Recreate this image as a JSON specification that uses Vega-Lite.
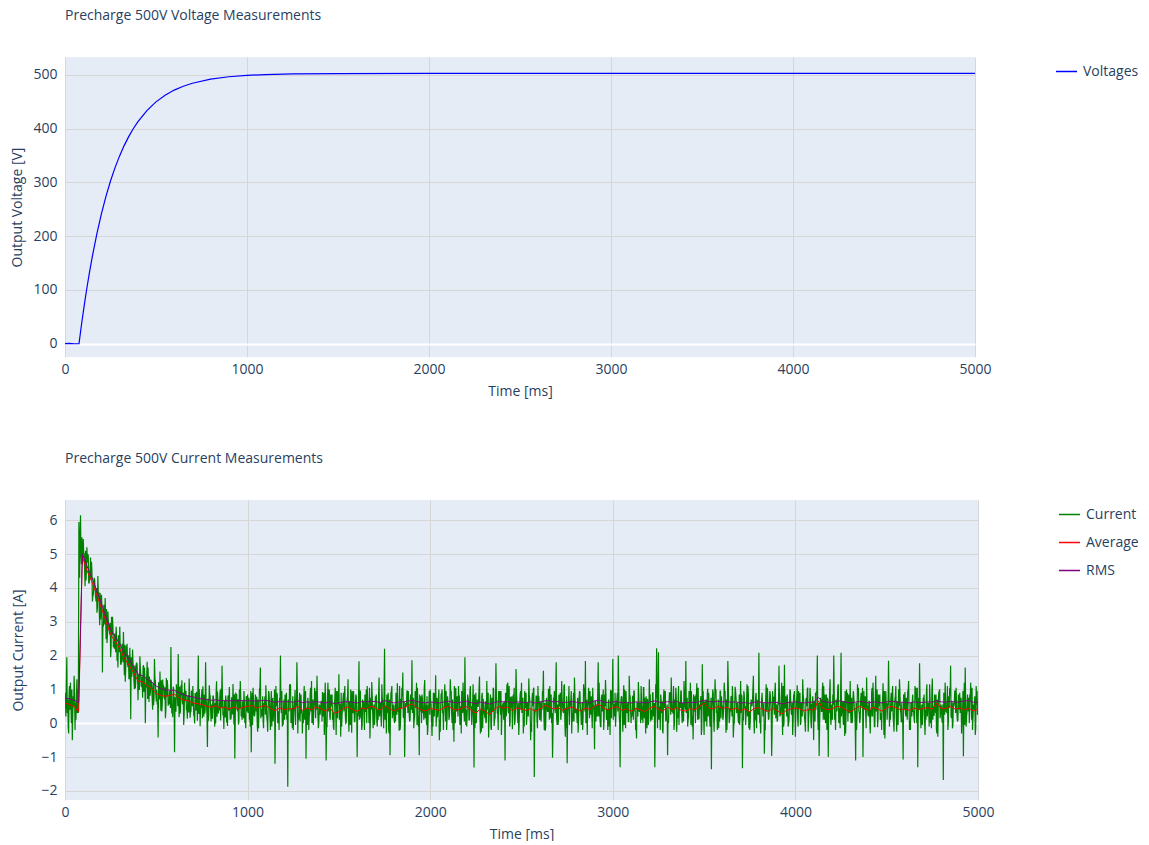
{
"$schema": "https://vega.github.io/schema/vega-lite/v6.json",
"background": "white",
"padding": {"top": 9, "left": 10, "right": 0, "bottom": 0},
"config": {
 "font": "Open Sans",
 "view": {"stroke": null, "fill": "#E5ECF6"},
 "axis": {"domain": false, "ticks": false, "labelFont": "Open Sans", "labelFontSize": 14, "labelColor": "#2a3f5f", "titleFont": "Open Sans", "titleFontSize": 14, "titleFontWeight": "normal", "titleColor": "#2a3f5f", "gridColor": "#d6d6d6", "gridWidth": 1},
 "title": {"font": "Open Sans", "fontSize": 14, "fontWeight": "normal", "color": "#2a3f5f", "anchor": "start", "frame": "group", "offset": 34},
 "legend": {"title": null, "orient": "right", "symbolType": "stroke", "symbolSize": 441, "symbolStrokeWidth": 1.5, "labelFont": "Open Sans", "labelFontSize": 14, "labelColor": "#2a3f5f", "labelOffset": 5, "rowPadding": 9, "offset": 77, "padding": 3}
},
"datasets": {
 "volt": [
  {"t":0,"v":0},{"t":25,"v":0.5},{"t":50,"v":-0.3},{"t":77,"v":0},{"t":90,"v":33.6},{"t":100,"v":57.7},{"t":110,"v":81},{"t":120,"v":103},{"t":135,"v":133.5},{"t":150,"v":162},{"t":175,"v":204},{"t":200,"v":241.5},{"t":225,"v":274},{"t":250,"v":302.6},{"t":275,"v":327.5},{"t":300,"v":349.4},{"t":325,"v":368.5},{"t":350,"v":385.3},{"t":375,"v":399.9},{"t":400,"v":412.8},{"t":450,"v":433.8},{"t":500,"v":450},{"t":550,"v":462.4},{"t":600,"v":471.9},{"t":650,"v":479.1},{"t":700,"v":484.7},{"t":800,"v":492.2},{"t":900,"v":496.7},{"t":1000,"v":499.3},{"t":1100,"v":500.8},{"t":1250,"v":502},{"t":1500,"v":502.7},{"t":2000,"v":503},{"t":2500,"v":503.2},{"t":3000,"v":503},{"t":3500,"v":503.1},{"t":4000,"v":503},{"t":4500,"v":503.2},{"t":5000,"v":503}
 ],
 "cur": [
  {"t":0,"i":0.9},{"t":5,"i":0.2},{"t":10,"i":1.95},{"t":15,"i":0.7},{"t":20,"i":-0.3},{"t":25,"i":1.1},{"t":30,"i":1.2},{"t":35,"i":0.0},{"t":40,"i":-0.5},{"t":45,"i":0.8},{"t":50,"i":1.4},{"t":55,"i":-0.2},{"t":60,"i":0.1},{"t":65,"i":1.3},{"t":70,"i":1.0},{"t":73,"i":0.3},{"t":76,"i":5.95},{"t":80,"i":4.3},{"t":85,"i":6.15},{"t":90,"i":4.7},{"t":95,"i":4.7},
  {"t":100,"i":5.45},{"t":105,"i":5.03},{"t":110,"i":4.05},{"t":115,"i":4.22},{"t":120,"i":5.2},{"t":125,"i":5.0},{"t":130,"i":4.15},{"t":135,"i":4.28},{"t":140,"i":4.9},{"t":145,"i":4.77},{"t":150,"i":3.6},{"t":155,"i":3.8},{"t":160,"i":4.3},{"t":165,"i":3.93},{"t":170,"i":3.6},{"t":175,"i":3.27},{"t":180,"i":4.35},{"t":185,"i":3.88},{"t":190,"i":2.9},{"t":195,"i":3.07},
  {"t":200,"i":3.8},{"t":205,"i":1.5},{"t":210,"i":2.85},{"t":215,"i":3.27},{"t":220,"i":3.7},{"t":225,"i":2.48},{"t":230,"i":2.37},{"t":235,"i":3.3},{"t":240,"i":2.93},{"t":245,"i":2.62},{"t":250,"i":1.95},{"t":255,"i":3.15},{"t":260,"i":3.15},{"t":265,"i":2.25},{"t":270,"i":2.2},{"t":275,"i":2.45},{"t":280,"i":2.85},{"t":285,"i":1.85},{"t":290,"i":1.65},{"t":295,"i":2.5},
  {"t":300,"i":2.85},{"t":305,"i":1.75},{"t":310,"i":1.9},{"t":315,"i":2.15},{"t":320,"i":2.7},{"t":325,"i":1.42},{"t":330,"i":1.23},{"t":335,"i":2.29},{"t":340,"i":2.35},{"t":345,"i":1.66},{"t":350,"i":1.32},{"t":355,"i":2.23},{"t":360,"i":0.12},{"t":365,"i":1.37},{"t":370,"i":2.18},{"t":375,"i":1.6},{"t":380,"i":1.01},{"t":385,"i":1.03},{"t":390,"i":1.74},{"t":395,"i":1.71},
  {"t":400,"i":0.68},{"t":405,"i":1.0},{"t":410,"i":1.98},{"t":415,"i":1.45},{"t":420,"i":1.07},{"t":425,"i":0.75},{"t":430,"i":1.72},{"t":435,"i":1.65},{"t":440,"i":0.0},{"t":445,"i":1.05},{"t":450,"i":1.82},{"t":455,"i":1.65},{"t":460,"i":0.63},{"t":465,"i":0.81},{"t":470,"i":1.29},{"t":475,"i":1.07},{"t":480,"i":0.4},{"t":485,"i":0.53},{"t":490,"i":1.9},{"t":495,"i":1.25},
  {"t":500,"i":0.64},{"t":505,"i":0.57},{"t":510,"i":-0.42},{"t":515,"i":1.05},{"t":520,"i":1.53},{"t":525,"i":0.37},{"t":530,"i":0.35},{"t":535,"i":1.29},{"t":540,"i":1.12},{"t":545,"i":0.71},{"t":550,"i":0.15},{"t":555,"i":1.34},{"t":560,"i":1.28},{"t":565,"i":0.52},{"t":570,"i":0.56},{"t":575,"i":0.8},{"t":580,"i":2.25},{"t":585,"i":0.29},{"t":590,"i":0.18},{"t":595,"i":1.02},
  {"t":600,"i":-0.86},{"t":605,"i":0.36},{"t":610,"i":1.15},{"t":615,"i":0.85},{"t":620,"i":2.05},{"t":625,"i":0.18},{"t":630,"i":0.28},{"t":635,"i":1.12},{"t":640,"i":1.27},{"t":645,"i":0.56},{"t":650,"i":-0.05},{"t":655,"i":1.2},{"t":660,"i":0.94},{"t":665,"i":0.38},{"t":670,"i":0.13},{"t":675,"i":0.67},{"t":680,"i":1.32},{"t":685,"i":0.16},{"t":690,"i":0.36},{"t":695,"i":0.9},
  {"t":700,"i":1.1},{"t":705,"i":0.24},{"t":710,"i":-0.01},{"t":715,"i":0.73},{"t":720,"i":0.93},{"t":725,"i":0.07},{"t":730,"i":2.0},{"t":735,"i":1.01},{"t":740,"i":-0.09},{"t":745,"i":0.45},{"t":750,"i":1.0},{"t":755,"i":1.09},{"t":760,"i":0.19},{"t":765,"i":0.28},{"t":770,"i":1.8},{"t":775,"i":0.57},{"t":780,"i":-0.7},{"t":785,"i":0.07},{"t":790,"i":1.12},{"t":795,"i":0.81},
  {"t":800,"i":0.05},{"t":805,"i":0.15},{"t":810,"i":0.8},{"t":815,"i":0.65},{"t":820,"i":-0.1},{"t":825,"i":-0.01},{"t":830,"i":1.24},{"t":835,"i":0.94},{"t":840,"i":0.29},{"t":845,"i":0.38},{"t":850,"i":0.98},{"t":855,"i":1.03},{"t":860,"i":1.7},{"t":865,"i":0.23},{"t":870,"i":-0.17},{"t":875,"i":0.52},{"t":880,"i":0.82},{"t":885,"i":0.02},{"t":890,"i":-0.08},{"t":895,"i":0.77},
  {"t":900,"i":1.07},{"t":905,"i":0.12},{"t":910,"i":0.17},{"t":915,"i":0.61},{"t":920,"i":1.16},{"t":925,"i":-0.04},{"t":930,"i":-1.04},{"t":935,"i":0.91},{"t":940,"i":0.86},{"t":945,"i":0.36},{"t":950,"i":-0.04},{"t":955,"i":1.0},{"t":960,"i":1.25},{"t":965,"i":0.2},{"t":970,"i":0.1},{"t":975,"i":0.5},{"t":980,"i":0.95},{"t":985,"i":0.0},{"t":990,"i":-0.15},{"t":995,"i":0.75},
  {"t":1000,"i":0.85},{"t":1005,"i":0.55},{"t":1010,"i":0.12},{"t":1015,"i":-0.1},{"t":1020,"i":-0.86},{"t":1025,"i":0.9},{"t":1030,"i":1.05},{"t":1035,"i":0.25},{"t":1040,"i":0.3},{"t":1045,"i":0.7},{"t":1050,"i":0.78},{"t":1055,"i":-0.25},{"t":1060,"i":-0.15},{"t":1065,"i":1.0},{"t":1070,"i":1.65},{"t":1075,"i":0.4},{"t":1080,"i":0.2},{"t":1085,"i":0.05},{"t":1090,"i":0.6},{"t":1095,"i":0.8},
  {"t":1100,"i":1.12},{"t":1105,"i":0.2},{"t":1110,"i":-0.25},{"t":1115,"i":0.95},{"t":1120,"i":0.55},{"t":1125,"i":-0.2},{"t":1130,"i":0.95},{"t":1135,"i":0.6},{"t":1140,"i":0.05},{"t":1145,"i":0.35},{"t":1150,"i":-1.2},{"t":1155,"i":1.1},{"t":1160,"i":0.9},{"t":1165,"i":0.0},{"t":1170,"i":0.35},{"t":1175,"i":0.75},{"t":1180,"i":2.0},{"t":1185,"i":0.3},{"t":1190,"i":-0.1},{"t":1195,"i":-0.05},
  {"t":1200,"i":0.7},{"t":1205,"i":0.85},{"t":1210,"i":0.25},{"t":1215,"i":0.1},{"t":1220,"i":-1.88},{"t":1225,"i":0.5},{"t":1230,"i":1.15},{"t":1235,"i":1.15},{"t":1240,"i":0.4},{"t":1245,"i":-0.15},{"t":1250,"i":-0.2},{"t":1255,"i":0.45},{"t":1260,"i":0.98},{"t":1265,"i":0.65},{"t":1270,"i":1.8},{"t":1275,"i":-0.3},{"t":1280,"i":0.1},{"t":1285,"i":0.9},{"t":1290,"i":0.62},{"t":1295,"i":0.3},
  {"t":1300,"i":-0.3},{"t":1305,"i":0.0},{"t":1310,"i":1.1},{"t":1315,"i":0.7},{"t":1320,"i":-1.05},{"t":1325,"i":0.35},{"t":1330,"i":0.75},{"t":1335,"i":-0.2},{"t":1340,"i":0.3},{"t":1345,"i":1.05},{"t":1350,"i":1.25},{"t":1355,"i":0.15},{"t":1360,"i":-0.05},{"t":1365,"i":0.6},{"t":1370,"i":0.58},{"t":1375,"i":0.95},{"t":1380,"i":1.4},{"t":1385,"i":0.25},{"t":1390,"i":0.0},{"t":1395,"i":0.5},
  {"t":1400,"i":0.45},{"t":1405,"i":0.65},{"t":1410,"i":0.92},{"t":1415,"i":0.2},{"t":1420,"i":-0.35},{"t":1425,"i":1.2},{"t":1430,"i":-1.1},{"t":1435,"i":-0.1},{"t":1440,"i":1.2},{"t":1445,"i":0.45},{"t":1450,"i":0.2},{"t":1455,"i":0.85},{"t":1460,"i":0.68},{"t":1465,"i":0.1},{"t":1470,"i":-0.12},{"t":1475,"i":0.55},{"t":1480,"i":1.05},{"t":1485,"i":-0.35},{"t":1490,"i":0.35},{"t":1495,"i":0.95},
  {"t":1500,"i":1.45},{"t":1505,"i":0.55},{"t":1510,"i":-0.4},{"t":1515,"i":-0.1},{"t":1520,"i":0.5},{"t":1525,"i":0.9},{"t":1530,"i":0.85},{"t":1535,"i":0.25},{"t":1540,"i":0.02},{"t":1545,"i":0.7},{"t":1550,"i":1.3},{"t":1555,"i":-0.25},{"t":1560,"i":0.22},{"t":1565,"i":1.0},{"t":1570,"i":-0.28},{"t":1575,"i":0.4},{"t":1580,"i":0.95},{"t":1585,"i":0.05},{"t":1590,"i":0.4},{"t":1595,"i":0.8},
  {"t":1600,"i":-1.0},{"t":1605,"i":0.2},{"t":1610,"i":1.83},{"t":1615,"i":0.95},{"t":1620,"i":0.15},{"t":1625,"i":-0.2},{"t":1630,"i":0.7},{"t":1635,"i":0.6},{"t":1640,"i":-0.2},{"t":1645,"i":0.35},{"t":1650,"i":1.0},{"t":1655,"i":1.1},{"t":1660,"i":0.48},{"t":1665,"i":0.0},{"t":1670,"i":-0.45},{"t":1675,"i":0.75},{"t":1680,"i":1.22},{"t":1685,"i":0.3},{"t":1690,"i":0.3},{"t":1695,"i":-0.05},
  {"t":1700,"i":0.8},{"t":1705,"i":0.85},{"t":1710,"i":-0.1},{"t":1715,"i":0.1},{"t":1720,"i":1.35},{"t":1725,"i":0.5},{"t":1730,"i":0.25},{"t":1735,"i":1.15},{"t":1740,"i":0.6},{"t":1745,"i":-0.15},{"t":1750,"i":2.2},{"t":1755,"i":0.45},{"t":1760,"i":-0.3},{"t":1765,"i":0.65},{"t":1770,"i":0.9},{"t":1775,"i":-0.3},{"t":1780,"i":-0.95},{"t":1785,"i":0.9},{"t":1790,"i":1.1},{"t":1795,"i":0.3},
  {"t":1800,"i":0.4},{"t":1805,"i":0.0},{"t":1810,"i":0.05},{"t":1815,"i":0.7},{"t":1820,"i":1.18},{"t":1825,"i":0.35},{"t":1830,"i":-0.22},{"t":1835,"i":-0.2},{"t":1840,"i":0.72},{"t":1845,"i":1.05},{"t":1850,"i":1.5},{"t":1855,"i":0.15},{"t":1860,"i":-1.0},{"t":1865,"i":0.6},{"t":1870,"i":0.55},{"t":1875,"i":0.95},{"t":1880,"i":0.95},{"t":1885,"i":0.25},{"t":1890,"i":0.1},{"t":1895,"i":0.5},
  {"t":1900,"i":1.86},{"t":1905,"i":0.65},{"t":1910,"i":-0.15},{"t":1915,"i":0.2},{"t":1920,"i":0.62},{"t":1925,"i":1.2},{"t":1930,"i":1.05},{"t":1935,"i":-0.1},{"t":1940,"i":-0.95},{"t":1945,"i":0.45},{"t":1950,"i":0.8},{"t":1955,"i":0.85},{"t":1960,"i":0.3},{"t":1965,"i":0.1},{"t":1970,"i":1.28},{"t":1975,"i":0.55},{"t":1980,"i":-0.05},{"t":1985,"i":-0.35},{"t":1990,"i":0.5},{"t":1995,"i":0.95},
  {"t":2000,"i":1.0},{"t":2005,"i":0.55},{"t":2010,"i":-0.38},{"t":2015,"i":-0.1},{"t":2020,"i":0.7},{"t":2025,"i":0.9},{"t":2030,"i":1.42},{"t":2035,"i":0.25},{"t":2040,"i":0.18},{"t":2045,"i":0.7},{"t":2050,"i":-0.5},{"t":2055,"i":-0.25},{"t":2060,"i":0.88},{"t":2065,"i":1.0},{"t":2070,"i":0.35},{"t":2075,"i":0.4},{"t":2080,"i":1.15},{"t":2085,"i":0.05},{"t":2090,"i":-0.2},{"t":2095,"i":0.8},
  {"t":2100,"i":0.6},{"t":2105,"i":0.2},{"t":2110,"i":1.3},{"t":2115,"i":0.95},{"t":2120,"i":0.0},{"t":2125,"i":-0.2},{"t":2130,"i":-0.55},{"t":2135,"i":0.6},{"t":2140,"i":1.05},{"t":2145,"i":0.35},{"t":2150,"i":0.45},{"t":2155,"i":1.1},{"t":2160,"i":0.82},{"t":2165,"i":0.0},{"t":2170,"i":-0.3},{"t":2175,"i":0.75},{"t":2180,"i":1.2},{"t":2185,"i":0.3},{"t":2190,"i":1.95},{"t":2195,"i":-0.05},
  {"t":2200,"i":-0.1},{"t":2205,"i":0.85},{"t":2210,"i":0.65},{"t":2215,"i":0.1},{"t":2220,"i":1.1},{"t":2225,"i":0.5},{"t":2230,"i":0.2},{"t":2235,"i":1.15},{"t":2240,"i":-1.31},{"t":2245,"i":-0.15},{"t":2250,"i":0.9},{"t":2255,"i":0.45},{"t":2260,"i":0.5},{"t":2265,"i":0.65},{"t":2270,"i":1.38},{"t":2275,"i":-0.3},{"t":2280,"i":-0.25},{"t":2285,"i":0.9},{"t":2290,"i":0.72},{"t":2295,"i":0.3},
  {"t":2300,"i":0.15},{"t":2305,"i":0.0},{"t":2310,"i":1.25},{"t":2315,"i":0.7},{"t":2320,"i":-0.42},{"t":2325,"i":0.35},{"t":2330,"i":0.85},{"t":2335,"i":-0.2},{"t":2340,"i":0.4},{"t":2345,"i":1.05},{"t":2350,"i":-0.08},{"t":2355,"i":0.15},{"t":2360,"i":1.77},{"t":2365,"i":0.6},{"t":2370,"i":0.28},{"t":2375,"i":0.95},{"t":2380,"i":0.95},{"t":2385,"i":0.25},{"t":2390,"i":-0.35},{"t":2395,"i":0.5},
  {"t":2400,"i":0.6},{"t":2405,"i":0.65},{"t":2410,"i":-1.1},{"t":2415,"i":0.2},{"t":2420,"i":1.15},{"t":2425,"i":1.2},{"t":2430,"i":0.3},{"t":2435,"i":-0.1},{"t":2440,"i":0.78},{"t":2445,"i":0.45},{"t":2450,"i":-0.18},{"t":2455,"i":0.85},{"t":2460,"i":1.05},{"t":2465,"i":0.1},{"t":2470,"i":1.6},{"t":2475,"i":0.55},{"t":2480,"i":0.0},{"t":2485,"i":-0.35},{"t":2490,"i":0.55},{"t":2495,"i":0.95},
  {"t":2500,"i":1.2},{"t":2505,"i":0.55},{"t":2510,"i":-0.3},{"t":2515,"i":-0.1},{"t":2520,"i":0.68},{"t":2525,"i":0.9},{"t":2530,"i":0.25},{"t":2535,"i":0.25},{"t":2540,"i":1.32},{"t":2545,"i":0.7},{"t":2550,"i":-0.5},{"t":2555,"i":-0.25},{"t":2560,"i":0.9},{"t":2565,"i":1.0},{"t":2570,"i":-1.59},{"t":2575,"i":0.4},{"t":2580,"i":0.8},{"t":2585,"i":0.05},{"t":2590,"i":1.1},{"t":2595,"i":0.8},
  {"t":2600,"i":0.1},{"t":2605,"i":0.2},{"t":2610,"i":0.62},{"t":2615,"i":0.95},{"t":2620,"i":1.55},{"t":2625,"i":-0.2},{"t":2630,"i":-0.22},{"t":2635,"i":0.6},{"t":2640,"i":0.45},{"t":2645,"i":0.35},{"t":2650,"i":1.0},{"t":2655,"i":1.1},{"t":2660,"i":0.15},{"t":2665,"i":0.0},{"t":2670,"i":-1.02},{"t":2675,"i":0.75},{"t":2680,"i":0.95},{"t":2685,"i":0.3},{"t":2690,"i":1.8},{"t":2695,"i":-0.05},
  {"t":2700,"i":-0.05},{"t":2705,"i":0.85},{"t":2710,"i":0.5},{"t":2715,"i":0.1},{"t":2720,"i":1.25},{"t":2725,"i":0.5},{"t":2730,"i":0.3},{"t":2735,"i":1.15},{"t":2740,"i":-0.4},{"t":2745,"i":-0.15},{"t":2750,"i":-1.18},{"t":2755,"i":0.45},{"t":2760,"i":1.1},{"t":2765,"i":0.65},{"t":2770,"i":0.65},{"t":2775,"i":-0.3},{"t":2780,"i":0.05},{"t":2785,"i":0.9},{"t":2790,"i":1.35},{"t":2795,"i":0.3},
  {"t":2800,"i":0.4},{"t":2805,"i":0.0},{"t":2810,"i":-0.28},{"t":2815,"i":0.7},{"t":2820,"i":0.92},{"t":2825,"i":0.35},{"t":2830,"i":0.18},{"t":2835,"i":-0.2},{"t":2840,"i":1.15},{"t":2845,"i":1.05},{"t":2850,"i":1.84},{"t":2855,"i":0.15},{"t":2860,"i":-0.35},{"t":2865,"i":0.6},{"t":2870,"i":0.7},{"t":2875,"i":0.95},{"t":2880,"i":0.25},{"t":2885,"i":0.25},{"t":2890,"i":1.05},{"t":2895,"i":0.5},
  {"t":2900,"i":-0.77},{"t":2905,"i":0.65},{"t":2910,"i":0.55},{"t":2915,"i":0.2},{"t":2920,"i":1.8},{"t":2925,"i":1.2},{"t":2930,"i":0.1},{"t":2935,"i":-0.1},{"t":2940,"i":0.85},{"t":2945,"i":0.45},{"t":2950,"i":-0.2},{"t":2955,"i":0.85},{"t":2960,"i":1.28},{"t":2965,"i":0.1},{"t":2970,"i":0.42},{"t":2975,"i":0.55},{"t":2980,"i":-0.1},{"t":2985,"i":-0.35},{"t":2990,"i":0.98},{"t":2995,"i":0.95},
  {"t":3000,"i":1.9},{"t":3005,"i":0.55},{"t":3010,"i":0.2},{"t":3015,"i":-0.1},{"t":3020,"i":0.6},{"t":3025,"i":0.9},{"t":3030,"i":2.0},{"t":3035,"i":0.25},{"t":3040,"i":-1.3},{"t":3045,"i":0.7},{"t":3050,"i":0.75},{"t":3055,"i":-0.25},{"t":3060,"i":1.12},{"t":3065,"i":1.0},{"t":3070,"i":-0.15},{"t":3075,"i":0.4},{"t":3080,"i":0.5},{"t":3085,"i":0.05},{"t":3090,"i":1.4},{"t":3095,"i":0.8},
  {"t":3100,"i":0.0},{"t":3105,"i":0.2},{"t":3110,"i":0.82},{"t":3115,"i":0.95},{"t":3120,"i":0.35},{"t":3125,"i":-0.2},{"t":3130,"i":-0.45},{"t":3135,"i":0.6},{"t":3140,"i":1.22},{"t":3145,"i":0.35},{"t":3150,"i":0.6},{"t":3155,"i":1.1},{"t":3160,"i":0.1},{"t":3165,"i":0.0},{"t":3170,"i":1.05},{"t":3175,"i":0.75},{"t":3180,"i":-0.3},{"t":3185,"i":0.3},{"t":3190,"i":0.72},{"t":3195,"i":-0.05},
  {"t":3200,"i":1.3},{"t":3205,"i":0.85},{"t":3210,"i":0.25},{"t":3215,"i":0.1},{"t":3220,"i":0.9},{"t":3225,"i":0.5},{"t":3230,"i":-1.3},{"t":3235,"i":1.15},{"t":3240,"i":2.22},{"t":3245,"i":-0.15},{"t":3250,"i":2.1},{"t":3255,"i":0.45},{"t":3260,"i":-0.2},{"t":3265,"i":0.65},{"t":3270,"i":0.65},{"t":3275,"i":-0.3},{"t":3280,"i":1.0},{"t":3285,"i":0.9},{"t":3290,"i":0.05},{"t":3295,"i":0.3},
  {"t":3300,"i":-0.95},{"t":3305,"i":0.0},{"t":3310,"i":0.9},{"t":3315,"i":0.7},{"t":3320,"i":1.35},{"t":3325,"i":0.35},{"t":3330,"i":0.28},{"t":3335,"i":-0.2},{"t":3340,"i":0.7},{"t":3345,"i":1.05},{"t":3350,"i":-0.25},{"t":3355,"i":0.15},{"t":3360,"i":1.1},{"t":3365,"i":0.6},{"t":3370,"i":0.45},{"t":3375,"i":0.95},{"t":3380,"i":0.0},{"t":3385,"i":0.25},{"t":3390,"i":1.25},{"t":3395,"i":0.5},
  {"t":3400,"i":1.84},{"t":3405,"i":0.65},{"t":3410,"i":-0.1},{"t":3415,"i":0.2},{"t":3420,"i":0.55},{"t":3425,"i":1.2},{"t":3430,"i":0.95},{"t":3435,"i":-0.1},{"t":3440,"i":-0.48},{"t":3445,"i":0.45},{"t":3450,"i":0.8},{"t":3455,"i":0.85},{"t":3460,"i":1.18},{"t":3465,"i":0.1},{"t":3470,"i":0.12},{"t":3475,"i":0.55},{"t":3480,"i":0.62},{"t":3485,"i":-0.35},{"t":3490,"i":1.74},{"t":3495,"i":0.95},
  {"t":3500,"i":-0.35},{"t":3505,"i":0.55},{"t":3510,"i":0.7},{"t":3515,"i":-0.1},{"t":3520,"i":1.02},{"t":3525,"i":0.9},{"t":3530,"i":0.2},{"t":3535,"i":0.25},{"t":3540,"i":-1.36},{"t":3545,"i":0.7},{"t":3550,"i":0.88},{"t":3555,"i":-0.25},{"t":3560,"i":1.3},{"t":3565,"i":1.0},{"t":3570,"i":0.35},{"t":3575,"i":0.4},{"t":3580,"i":-0.15},{"t":3585,"i":0.05},{"t":3590,"i":0.95},{"t":3595,"i":0.8},
  {"t":3600,"i":0.5},{"t":3605,"i":0.2},{"t":3610,"i":1.2},{"t":3615,"i":0.95},{"t":3620,"i":-0.28},{"t":3625,"i":-0.2},{"t":3630,"i":1.84},{"t":3635,"i":0.6},{"t":3640,"i":0.15},{"t":3645,"i":0.35},{"t":3650,"i":0.75},{"t":3655,"i":1.1},{"t":3660,"i":-0.42},{"t":3665,"i":0.0},{"t":3670,"i":1.08},{"t":3675,"i":0.75},{"t":3680,"i":0.4},{"t":3685,"i":0.3},{"t":3690,"i":0.0},{"t":3695,"i":-0.05},
  {"t":3700,"i":1.25},{"t":3705,"i":0.85},{"t":3710,"i":-1.33},{"t":3715,"i":0.1},{"t":3720,"i":0.85},{"t":3725,"i":0.5},{"t":3730,"i":0.3},{"t":3735,"i":1.15},{"t":3740,"i":1.1},{"t":3745,"i":-0.15},{"t":3750,"i":-0.2},{"t":3755,"i":0.45},{"t":3760,"i":0.62},{"t":3765,"i":0.65},{"t":3770,"i":1.4},{"t":3775,"i":-0.3},{"t":3780,"i":0.08},{"t":3785,"i":0.9},{"t":3790,"i":0.7},{"t":3795,"i":0.3},
  {"t":3800,"i":2.08},{"t":3805,"i":0.0},{"t":3810,"i":-0.3},{"t":3815,"i":0.7},{"t":3820,"i":0.55},{"t":3825,"i":0.35},{"t":3830,"i":-0.9},{"t":3835,"i":-0.2},{"t":3840,"i":1.15},{"t":3845,"i":1.05},{"t":3850,"i":0.4},{"t":3855,"i":0.15},{"t":3860,"i":0.95},{"t":3865,"i":0.6},{"t":3870,"i":-0.97},{"t":3875,"i":0.95},{"t":3880,"i":0.78},{"t":3885,"i":0.25},{"t":3890,"i":1.2},{"t":3895,"i":0.5},
  {"t":3900,"i":0.05},{"t":3905,"i":0.65},{"t":3910,"i":1.7},{"t":3915,"i":0.2},{"t":3920,"i":0.3},{"t":3925,"i":1.2},{"t":3930,"i":-0.35},{"t":3935,"i":-0.1},{"t":3940,"i":1.73},{"t":3945,"i":0.45},{"t":3950,"i":0.5},{"t":3955,"i":0.85},{"t":3960,"i":-0.1},{"t":3965,"i":0.1},{"t":3970,"i":1.0},{"t":3975,"i":0.55},{"t":3980,"i":0.25},{"t":3985,"i":-0.35},{"t":3990,"i":0.82},{"t":3995,"i":0.95},
  {"t":4000,"i":-0.4},{"t":4005,"i":0.55},{"t":4010,"i":1.12},{"t":4015,"i":-0.1},{"t":4020,"i":0.48},{"t":4025,"i":0.9},{"t":4030,"i":0.0},{"t":4035,"i":0.25},{"t":4040,"i":1.3},{"t":4045,"i":0.7},{"t":4050,"i":0.2},{"t":4055,"i":-0.25},{"t":4060,"i":0.75},{"t":4065,"i":1.0},{"t":4070,"i":-0.25},{"t":4075,"i":0.4},{"t":4080,"i":1.05},{"t":4085,"i":0.05},{"t":4090,"i":0.55},{"t":4095,"i":0.8},
  {"t":4100,"i":-0.5},{"t":4105,"i":0.2},{"t":4110,"i":0.9},{"t":4115,"i":0.95},{"t":4120,"i":2.0},{"t":4125,"i":-0.2},{"t":4130,"i":-0.97},{"t":4135,"i":0.6},{"t":4140,"i":0.65},{"t":4145,"i":0.35},{"t":4150,"i":1.2},{"t":4155,"i":1.1},{"t":4160,"i":0.1},{"t":4165,"i":0.0},{"t":4170,"i":0.85},{"t":4175,"i":0.75},{"t":4180,"i":-1.0},{"t":4185,"i":0.3},{"t":4190,"i":1.3},{"t":4195,"i":-0.05},
  {"t":4200,"i":0.35},{"t":4205,"i":0.85},{"t":4210,"i":2.0},{"t":4215,"i":0.1},{"t":4220,"i":-0.2},{"t":4225,"i":0.5},{"t":4230,"i":0.72},{"t":4235,"i":1.15},{"t":4240,"i":0.15},{"t":4245,"i":-0.15},{"t":4250,"i":2.08},{"t":4255,"i":0.45},{"t":4260,"i":0.4},{"t":4265,"i":0.65},{"t":4270,"i":-0.38},{"t":4275,"i":-0.3},{"t":4280,"i":1.0},{"t":4285,"i":0.9},{"t":4290,"i":0.6},{"t":4295,"i":0.3},
  {"t":4300,"i":1.25},{"t":4305,"i":0.0},{"t":4310,"i":0.0},{"t":4315,"i":0.7},{"t":4320,"i":0.8},{"t":4325,"i":0.35},{"t":4330,"i":-1.1},{"t":4335,"i":-0.2},{"t":4340,"i":1.15},{"t":4345,"i":1.05},{"t":4350,"i":0.3},{"t":4355,"i":0.15},{"t":4360,"i":0.9},{"t":4365,"i":0.6},{"t":4370,"i":-1.0},{"t":4375,"i":0.95},{"t":4380,"i":0.58},{"t":4385,"i":0.25},{"t":4390,"i":1.35},{"t":4395,"i":0.5},
  {"t":4400,"i":0.2},{"t":4405,"i":0.65},{"t":4410,"i":-0.3},{"t":4415,"i":0.2},{"t":4420,"i":1.05},{"t":4425,"i":1.2},{"t":4430,"i":0.45},{"t":4435,"i":-0.1},{"t":4440,"i":1.4},{"t":4445,"i":0.45},{"t":4450,"i":-0.12},{"t":4455,"i":0.85},{"t":4460,"i":0.7},{"t":4465,"i":0.1},{"t":4470,"i":0.25},{"t":4475,"i":0.55},{"t":4480,"i":1.18},{"t":4485,"i":-0.35},{"t":4490,"i":-0.45},{"t":4495,"i":0.95},
  {"t":4500,"i":0.6},{"t":4505,"i":0.55},{"t":4510,"i":1.85},{"t":4515,"i":-0.1},{"t":4520,"i":0.1},{"t":4525,"i":0.9},{"t":4530,"i":0.85},{"t":4535,"i":0.25},{"t":4540,"i":-0.25},{"t":4545,"i":0.7},{"t":4550,"i":1.1},{"t":4555,"i":-0.25},{"t":4560,"i":0.38},{"t":4565,"i":1.0},{"t":4570,"i":1.3},{"t":4575,"i":0.4},{"t":4580,"i":0.02},{"t":4585,"i":0.05},{"t":4590,"i":-1.07},{"t":4595,"i":0.8},
  {"t":4600,"i":0.92},{"t":4605,"i":0.2},{"t":4610,"i":0.4},{"t":4615,"i":0.95},{"t":4620,"i":1.25},{"t":4625,"i":-0.2},{"t":4630,"i":-0.2},{"t":4635,"i":0.6},{"t":4640,"i":0.65},{"t":4645,"i":0.35},{"t":4650,"i":0.15},{"t":4655,"i":1.1},{"t":4660,"i":1.05},{"t":4665,"i":0.0},{"t":4670,"i":-1.3},{"t":4675,"i":0.75},{"t":4680,"i":1.77},{"t":4685,"i":0.3},{"t":4690,"i":0.3},{"t":4695,"i":-0.05},
  {"t":4700,"i":0.75},{"t":4705,"i":0.85},{"t":4710,"i":-0.35},{"t":4715,"i":0.1},{"t":4720,"i":1.15},{"t":4725,"i":0.5},{"t":4730,"i":0.5},{"t":4735,"i":1.15},{"t":4740,"i":0.0},{"t":4745,"i":-0.15},{"t":4750,"i":1.32},{"t":4755,"i":0.45},{"t":4760,"i":0.22},{"t":4765,"i":0.65},{"t":4770,"i":0.85},{"t":4775,"i":-0.3},{"t":4780,"i":-0.4},{"t":4785,"i":0.9},{"t":4790,"i":1.0},{"t":4795,"i":0.3},
  {"t":4800,"i":0.45},{"t":4805,"i":0.0},{"t":4810,"i":-1.68},{"t":4815,"i":0.7},{"t":4820,"i":1.2},{"t":4825,"i":0.35},{"t":4830,"i":0.3},{"t":4835,"i":-0.2},{"t":4840,"i":0.8},{"t":4845,"i":1.05},{"t":4850,"i":1.7},{"t":4855,"i":0.15},{"t":4860,"i":-0.15},{"t":4865,"i":0.6},{"t":4870,"i":0.6},{"t":4875,"i":0.95},{"t":4880,"i":1.05},{"t":4885,"i":0.25},{"t":4890,"i":0.1},{"t":4895,"i":0.5},
  {"t":4900,"i":0.9},{"t":4905,"i":0.65},{"t":4910,"i":-0.3},{"t":4915,"i":0.2},{"t":4920,"i":-0.98},{"t":4925,"i":1.2},{"t":4930,"i":1.65},{"t":4935,"i":-0.1},{"t":4940,"i":0.35},{"t":4945,"i":0.45},{"t":4950,"i":0.75},{"t":4955,"i":0.85},{"t":4960,"i":1.2},{"t":4965,"i":0.1},{"t":4970,"i":-0.2},{"t":4975,"i":0.55},{"t":4980,"i":0.55},{"t":4985,"i":-0.35},{"t":4990,"i":1.1},{"t":4995,"i":0.95},{"t":5000,"i":0.3},
  {"t":2.5,"i":0.6},{"t":7.5,"i":1.2},{"t":12.5,"i":0.3},{"t":17.5,"i":-0.1},{"t":22.5,"i":0.9},{"t":27.5,"i":0.4},{"t":32.5,"i":0.6},{"t":37.5,"i":1.0},{"t":42.5,"i":0.2},{"t":47.5,"i":0.5},{"t":52.5,"i":0.9},{"t":57.5,"i":0.6},{"t":62.5,"i":0.8},{"t":67.5,"i":0.3},
  {"t":82.5,"i":5.5},{"t":87.5,"i":4.97},{"t":92.5,"i":5.5},{"t":97.5,"i":4.95},{"t":102.5,"i":5.0},{"t":107.5,"i":4.53},{"t":112.5,"i":5.1},{"t":117.5,"i":4.52},{"t":122.5,"i":4.75},{"t":127.5,"i":4.95},{"t":132.5,"i":4.15},{"t":137.5,"i":4.53},{"t":142.5,"i":4.25},{"t":147.5,"i":4.47},{"t":152.5,"i":3.75},{"t":157.5,"i":4.05},{"t":162.5,"i":4.25},{"t":167.5,"i":3.73},{"t":172.5,"i":4.0},{"t":177.5,"i":3.42},
  {"t":182.5,"i":3.85},{"t":187.5,"i":3.33},{"t":192.5,"i":3.85},{"t":197.5,"i":3.32},{"t":202.5,"i":3.4},{"t":207.5,"i":2.93},{"t":212.5,"i":3.5},{"t":217.5,"i":2.92},{"t":222.5,"i":3.15},{"t":227.5,"i":3.38},{"t":232.5,"i":2.62},{"t":237.5,"i":3.0},{"t":242.5,"i":2.73},{"t":247.5,"i":2.97},{"t":252.5,"i":2.25},{"t":257.5,"i":2.6},{"t":262.5,"i":2.85},{"t":267.5,"i":2.35},{"t":272.5,"i":2.65},{"t":277.5,"i":2.1},
  {"t":282.5,"i":2.55},{"t":287.5,"i":2.05},{"t":292.5,"i":2.6},{"t":297.5,"i":2.1},{"t":302.5,"i":2.2},{"t":307.5,"i":1.75},{"t":312.5,"i":2.35},{"t":317.5,"i":1.8},{"t":322.5,"i":2.06},{"t":327.5,"i":2.32},{"t":332.5,"i":1.58},{"t":337.5,"i":1.99},{"t":342.5,"i":1.75},{"t":347.5,"i":2.01},{"t":352.5,"i":1.32},{"t":357.5,"i":1.68},{"t":362.5,"i":1.95},{"t":367.5,"i":1.47},{"t":372.5,"i":1.78},{"t":377.5,"i":1.25},
  {"t":382.5,"i":1.71},{"t":387.5,"i":1.23},{"t":392.5,"i":1.79},{"t":397.5,"i":1.31},{"t":402.5,"i":1.43},{"t":407.5,"i":1.0},{"t":412.5,"i":1.63},{"t":417.5,"i":1.1},{"t":422.5,"i":1.37},{"t":427.5,"i":1.65},{"t":432.5,"i":0.92},{"t":437.5,"i":1.35},{"t":442.5,"i":1.12},{"t":447.5,"i":1.4},{"t":452.5,"i":0.72},{"t":457.5,"i":1.1},{"t":462.5,"i":1.38},{"t":467.5,"i":0.91},{"t":472.5,"i":1.24},{"t":477.5,"i":0.72},
  {"t":482.5,"i":1.2},{"t":487.5,"i":0.73},{"t":492.5,"i":1.32},{"t":497.5,"i":0.85},{"t":502.5,"i":0.99},{"t":507.5,"i":0.57},{"t":512.5,"i":1.21},{"t":517.5,"i":0.7},{"t":522.5,"i":0.98},{"t":527.5,"i":1.27},{"t":532.5,"i":0.55},{"t":537.5,"i":0.99},{"t":542.5,"i":0.77},{"t":547.5,"i":1.06},{"t":552.5,"i":0.4},{"t":557.5,"i":0.79},{"t":562.5,"i":1.08},{"t":567.5,"i":0.62},{"t":572.5,"i":0.96},{"t":577.5,"i":0.45},
  {"t":582.5,"i":0.94},{"t":587.5,"i":0.49},{"t":592.5,"i":1.08},{"t":597.5,"i":0.62},{"t":602.5,"i":0.77},{"t":607.5,"i":0.36},{"t":612.5,"i":1.0},{"t":617.5,"i":0.5},{"t":622.5,"i":0.79},{"t":627.5,"i":1.08},{"t":632.5,"i":0.38},{"t":637.5,"i":0.82},{"t":642.5,"i":0.62},{"t":647.5,"i":0.91},{"t":652.5,"i":0.25},{"t":657.5,"i":0.65},{"t":662.5,"i":0.94},{"t":667.5,"i":0.48},{"t":672.5,"i":0.83},{"t":677.5,"i":0.32},
  {"t":682.5,"i":0.82},{"t":687.5,"i":0.36},{"t":692.5,"i":0.96},{"t":697.5,"i":0.5},{"t":702.5,"i":0.65},{"t":707.5,"i":0.24},{"t":712.5,"i":0.89},{"t":717.5,"i":0.38},{"t":722.5,"i":0.68},{"t":727.5,"i":0.97},{"t":732.5,"i":0.27},{"t":737.5,"i":0.71},{"t":742.5,"i":0.51},{"t":747.5,"i":0.8},{"t":752.5,"i":0.15},{"t":757.5,"i":0.54},{"t":762.5,"i":0.84},{"t":767.5,"i":0.38},{"t":772.5,"i":0.73},{"t":777.5,"i":0.22},
  {"t":782.5,"i":0.72},{"t":787.5,"i":0.27},{"t":792.5,"i":0.86},{"t":797.5,"i":0.41},{"t":802.5,"i":0.55},{"t":807.5,"i":0.15},{"t":812.5,"i":0.8},{"t":817.5,"i":0.3},{"t":822.5,"i":0.6},{"t":827.5,"i":0.89},{"t":832.5,"i":0.19},{"t":837.5,"i":0.64},{"t":842.5,"i":0.44},{"t":847.5,"i":0.73},{"t":852.5,"i":0.08},{"t":857.5,"i":0.48},{"t":862.5,"i":0.78},{"t":867.5,"i":0.33},{"t":872.5,"i":0.67},{"t":877.5,"i":0.17},
  {"t":882.5,"i":0.67},{"t":887.5,"i":0.22},{"t":892.5,"i":0.82},{"t":897.5,"i":0.37},{"t":902.5,"i":0.52},{"t":907.5,"i":0.12},{"t":912.5,"i":0.77},{"t":917.5,"i":0.26},{"t":922.5,"i":0.56},{"t":927.5,"i":0.86},{"t":932.5,"i":0.16},{"t":937.5,"i":0.61},{"t":942.5,"i":0.41},{"t":947.5,"i":0.71},{"t":952.5,"i":0.05},{"t":957.5,"i":0.45},{"t":962.5,"i":0.75},{"t":967.5,"i":0.3},{"t":972.5,"i":0.65},{"t":977.5,"i":0.15},
  {"t":982.5,"i":0.65},{"t":987.5,"i":0.2},{"t":992.5,"i":0.8},{"t":997.5,"i":0.35},
  {"t":1002.5,"i":0.3},{"t":1007.5,"i":0.75},{"t":1012.5,"i":0.1},{"t":1017.5,"i":0.95},{"t":1022.5,"i":0.45},{"t":1027.5,"i":-0.05},{"t":1032.5,"i":0.6},{"t":1037.5,"i":0.2},{"t":1042.5,"i":0.85},{"t":1047.5,"i":0.35},{"t":1052.5,"i":0.0},{"t":1057.5,"i":0.7},{"t":1062.5,"i":0.5},{"t":1067.5,"i":1.05},{"t":1072.5,"i":0.15},{"t":1077.5,"i":0.4},{"t":1082.5,"i":0.8},{"t":1087.5,"i":-0.15},{"t":1092.5,"i":0.55},{"t":1097.5,"i":0.25},
  {"t":1102.5,"i":0.65},{"t":1107.5,"i":0.05},{"t":1112.5,"i":0.4},{"t":1117.5,"i":0.9},{"t":1122.5,"i":0.2},{"t":1127.5,"i":0.6},{"t":1132.5,"i":-0.1},{"t":1137.5,"i":0.75},{"t":1142.5,"i":0.35},{"t":1147.5,"i":1.0},{"t":1152.5,"i":0.1},{"t":1157.5,"i":0.5},{"t":1162.5,"i":0.85},{"t":1167.5,"i":0.3},{"t":1172.5,"i":-0.2},{"t":1177.5,"i":0.7},{"t":1182.5,"i":0.45},{"t":1187.5,"i":0.95},{"t":1192.5,"i":0.15},{"t":1197.5,"i":0.55},
  {"t":1202.5,"i":0.1},{"t":1207.5,"i":0.55},{"t":1212.5,"i":0.9},{"t":1217.5,"i":0.25},{"t":1222.5,"i":0.7},{"t":1227.5,"i":0.35},{"t":1232.5,"i":1.1},{"t":1237.5,"i":0.0},{"t":1242.5,"i":0.45},{"t":1247.5,"i":0.8},{"t":1252.5,"i":0.2},{"t":1257.5,"i":0.65},{"t":1262.5,"i":-0.05},{"t":1267.5,"i":0.5},{"t":1272.5,"i":0.95},{"t":1277.5,"i":0.3},{"t":1282.5,"i":0.6},{"t":1287.5,"i":0.05},{"t":1292.5,"i":0.85},{"t":1297.5,"i":0.4},
  {"t":1302.5,"i":0.3},{"t":1307.5,"i":0.75},{"t":1312.5,"i":0.1},{"t":1317.5,"i":0.95},{"t":1322.5,"i":0.45},{"t":1327.5,"i":-0.05},{"t":1332.5,"i":0.6},{"t":1337.5,"i":0.2},{"t":1342.5,"i":0.85},{"t":1347.5,"i":0.35},{"t":1352.5,"i":0.0},{"t":1357.5,"i":0.7},{"t":1362.5,"i":0.5},{"t":1367.5,"i":1.05},{"t":1372.5,"i":0.15},{"t":1377.5,"i":0.4},{"t":1382.5,"i":0.8},{"t":1387.5,"i":-0.15},{"t":1392.5,"i":0.55},{"t":1397.5,"i":0.25},
  {"t":1402.5,"i":0.65},{"t":1407.5,"i":0.05},{"t":1412.5,"i":0.4},{"t":1417.5,"i":0.9},{"t":1422.5,"i":0.2},{"t":1427.5,"i":0.6},{"t":1432.5,"i":-0.1},{"t":1437.5,"i":0.75},{"t":1442.5,"i":0.35},{"t":1447.5,"i":1.0},{"t":1452.5,"i":0.1},{"t":1457.5,"i":0.5},{"t":1462.5,"i":0.85},{"t":1467.5,"i":0.3},{"t":1472.5,"i":-0.2},{"t":1477.5,"i":0.7},{"t":1482.5,"i":0.45},{"t":1487.5,"i":0.95},{"t":1492.5,"i":0.15},{"t":1497.5,"i":0.55},
  {"t":1502.5,"i":0.1},{"t":1507.5,"i":0.55},{"t":1512.5,"i":0.9},{"t":1517.5,"i":0.25},{"t":1522.5,"i":0.7},{"t":1527.5,"i":0.35},{"t":1532.5,"i":1.1},{"t":1537.5,"i":0.0},{"t":1542.5,"i":0.45},{"t":1547.5,"i":0.8},{"t":1552.5,"i":0.2},{"t":1557.5,"i":0.65},{"t":1562.5,"i":-0.05},{"t":1567.5,"i":0.5},{"t":1572.5,"i":0.95},{"t":1577.5,"i":0.3},{"t":1582.5,"i":0.6},{"t":1587.5,"i":0.05},{"t":1592.5,"i":0.85},{"t":1597.5,"i":0.4},
  {"t":1602.5,"i":0.3},{"t":1607.5,"i":0.75},{"t":1612.5,"i":0.1},{"t":1617.5,"i":0.95},{"t":1622.5,"i":0.45},{"t":1627.5,"i":-0.05},{"t":1632.5,"i":0.6},{"t":1637.5,"i":0.2},{"t":1642.5,"i":0.85},{"t":1647.5,"i":0.35},{"t":1652.5,"i":0.0},{"t":1657.5,"i":0.7},{"t":1662.5,"i":0.5},{"t":1667.5,"i":1.05},{"t":1672.5,"i":0.15},{"t":1677.5,"i":0.4},{"t":1682.5,"i":0.8},{"t":1687.5,"i":-0.15},{"t":1692.5,"i":0.55},{"t":1697.5,"i":0.25},
  {"t":1702.5,"i":0.65},{"t":1707.5,"i":0.05},{"t":1712.5,"i":0.4},{"t":1717.5,"i":0.9},{"t":1722.5,"i":0.2},{"t":1727.5,"i":0.6},{"t":1732.5,"i":-0.1},{"t":1737.5,"i":0.75},{"t":1742.5,"i":0.35},{"t":1747.5,"i":1.0},{"t":1752.5,"i":0.1},{"t":1757.5,"i":0.5},{"t":1762.5,"i":0.85},{"t":1767.5,"i":0.3},{"t":1772.5,"i":-0.2},{"t":1777.5,"i":0.7},{"t":1782.5,"i":0.45},{"t":1787.5,"i":0.95},{"t":1792.5,"i":0.15},{"t":1797.5,"i":0.55},
  {"t":1802.5,"i":0.1},{"t":1807.5,"i":0.55},{"t":1812.5,"i":0.9},{"t":1817.5,"i":0.25},{"t":1822.5,"i":0.7},{"t":1827.5,"i":0.35},{"t":1832.5,"i":1.1},{"t":1837.5,"i":0.0},{"t":1842.5,"i":0.45},{"t":1847.5,"i":0.8},{"t":1852.5,"i":0.2},{"t":1857.5,"i":0.65},{"t":1862.5,"i":-0.05},{"t":1867.5,"i":0.5},{"t":1872.5,"i":0.95},{"t":1877.5,"i":0.3},{"t":1882.5,"i":0.6},{"t":1887.5,"i":0.05},{"t":1892.5,"i":0.85},{"t":1897.5,"i":0.4},
  {"t":1902.5,"i":0.3},{"t":1907.5,"i":0.75},{"t":1912.5,"i":0.1},{"t":1917.5,"i":0.95},{"t":1922.5,"i":0.45},{"t":1927.5,"i":-0.05},{"t":1932.5,"i":0.6},{"t":1937.5,"i":0.2},{"t":1942.5,"i":0.85},{"t":1947.5,"i":0.35},{"t":1952.5,"i":0.0},{"t":1957.5,"i":0.7},{"t":1962.5,"i":0.5},{"t":1967.5,"i":1.05},{"t":1972.5,"i":0.15},{"t":1977.5,"i":0.4},{"t":1982.5,"i":0.8},{"t":1987.5,"i":-0.15},{"t":1992.5,"i":0.55},{"t":1997.5,"i":0.25},
  {"t":2002.5,"i":0.65},{"t":2007.5,"i":0.05},{"t":2012.5,"i":0.4},{"t":2017.5,"i":0.9},{"t":2022.5,"i":0.2},{"t":2027.5,"i":0.6},{"t":2032.5,"i":-0.1},{"t":2037.5,"i":0.75},{"t":2042.5,"i":0.35},{"t":2047.5,"i":1.0},{"t":2052.5,"i":0.1},{"t":2057.5,"i":0.5},{"t":2062.5,"i":0.85},{"t":2067.5,"i":0.3},{"t":2072.5,"i":-0.2},{"t":2077.5,"i":0.7},{"t":2082.5,"i":0.45},{"t":2087.5,"i":0.95},{"t":2092.5,"i":0.15},{"t":2097.5,"i":0.55},
  {"t":2102.5,"i":0.1},{"t":2107.5,"i":0.55},{"t":2112.5,"i":0.9},{"t":2117.5,"i":0.25},{"t":2122.5,"i":0.7},{"t":2127.5,"i":0.35},{"t":2132.5,"i":1.1},{"t":2137.5,"i":0.0},{"t":2142.5,"i":0.45},{"t":2147.5,"i":0.8},{"t":2152.5,"i":0.2},{"t":2157.5,"i":0.65},{"t":2162.5,"i":-0.05},{"t":2167.5,"i":0.5},{"t":2172.5,"i":0.95},{"t":2177.5,"i":0.3},{"t":2182.5,"i":0.6},{"t":2187.5,"i":0.05},{"t":2192.5,"i":0.85},{"t":2197.5,"i":0.4},
  {"t":2202.5,"i":0.3},{"t":2207.5,"i":0.75},{"t":2212.5,"i":0.1},{"t":2217.5,"i":0.95},{"t":2222.5,"i":0.45},{"t":2227.5,"i":-0.05},{"t":2232.5,"i":0.6},{"t":2237.5,"i":0.2},{"t":2242.5,"i":0.85},{"t":2247.5,"i":0.35},{"t":2252.5,"i":0.0},{"t":2257.5,"i":0.7},{"t":2262.5,"i":0.5},{"t":2267.5,"i":1.05},{"t":2272.5,"i":0.15},{"t":2277.5,"i":0.4},{"t":2282.5,"i":0.8},{"t":2287.5,"i":-0.15},{"t":2292.5,"i":0.55},{"t":2297.5,"i":0.25},
  {"t":2302.5,"i":0.65},{"t":2307.5,"i":0.05},{"t":2312.5,"i":0.4},{"t":2317.5,"i":0.9},{"t":2322.5,"i":0.2},{"t":2327.5,"i":0.6},{"t":2332.5,"i":-0.1},{"t":2337.5,"i":0.75},{"t":2342.5,"i":0.35},{"t":2347.5,"i":1.0},{"t":2352.5,"i":0.1},{"t":2357.5,"i":0.5},{"t":2362.5,"i":0.85},{"t":2367.5,"i":0.3},{"t":2372.5,"i":-0.2},{"t":2377.5,"i":0.7},{"t":2382.5,"i":0.45},{"t":2387.5,"i":0.95},{"t":2392.5,"i":0.15},{"t":2397.5,"i":0.55},
  {"t":2402.5,"i":0.1},{"t":2407.5,"i":0.55},{"t":2412.5,"i":0.9},{"t":2417.5,"i":0.25},{"t":2422.5,"i":0.7},{"t":2427.5,"i":0.35},{"t":2432.5,"i":1.1},{"t":2437.5,"i":0.0},{"t":2442.5,"i":0.45},{"t":2447.5,"i":0.8},{"t":2452.5,"i":0.2},{"t":2457.5,"i":0.65},{"t":2462.5,"i":-0.05},{"t":2467.5,"i":0.5},{"t":2472.5,"i":0.95},{"t":2477.5,"i":0.3},{"t":2482.5,"i":0.6},{"t":2487.5,"i":0.05},{"t":2492.5,"i":0.85},{"t":2497.5,"i":0.4},
  {"t":2502.5,"i":0.3},{"t":2507.5,"i":0.75},{"t":2512.5,"i":0.1},{"t":2517.5,"i":0.95},{"t":2522.5,"i":0.45},{"t":2527.5,"i":-0.05},{"t":2532.5,"i":0.6},{"t":2537.5,"i":0.2},{"t":2542.5,"i":0.85},{"t":2547.5,"i":0.35},{"t":2552.5,"i":0.0},{"t":2557.5,"i":0.7},{"t":2562.5,"i":0.5},{"t":2567.5,"i":1.05},{"t":2572.5,"i":0.15},{"t":2577.5,"i":0.4},{"t":2582.5,"i":0.8},{"t":2587.5,"i":-0.15},{"t":2592.5,"i":0.55},{"t":2597.5,"i":0.25},
  {"t":2602.5,"i":0.65},{"t":2607.5,"i":0.05},{"t":2612.5,"i":0.4},{"t":2617.5,"i":0.9},{"t":2622.5,"i":0.2},{"t":2627.5,"i":0.6},{"t":2632.5,"i":-0.1},{"t":2637.5,"i":0.75},{"t":2642.5,"i":0.35},{"t":2647.5,"i":1.0},{"t":2652.5,"i":0.1},{"t":2657.5,"i":0.5},{"t":2662.5,"i":0.85},{"t":2667.5,"i":0.3},{"t":2672.5,"i":-0.2},{"t":2677.5,"i":0.7},{"t":2682.5,"i":0.45},{"t":2687.5,"i":0.95},{"t":2692.5,"i":0.15},{"t":2697.5,"i":0.55},
  {"t":2702.5,"i":0.1},{"t":2707.5,"i":0.55},{"t":2712.5,"i":0.9},{"t":2717.5,"i":0.25},{"t":2722.5,"i":0.7},{"t":2727.5,"i":0.35},{"t":2732.5,"i":1.1},{"t":2737.5,"i":0.0},{"t":2742.5,"i":0.45},{"t":2747.5,"i":0.8},{"t":2752.5,"i":0.2},{"t":2757.5,"i":0.65},{"t":2762.5,"i":-0.05},{"t":2767.5,"i":0.5},{"t":2772.5,"i":0.95},{"t":2777.5,"i":0.3},{"t":2782.5,"i":0.6},{"t":2787.5,"i":0.05},{"t":2792.5,"i":0.85},{"t":2797.5,"i":0.4},
  {"t":2802.5,"i":0.3},{"t":2807.5,"i":0.75},{"t":2812.5,"i":0.1},{"t":2817.5,"i":0.95},{"t":2822.5,"i":0.45},{"t":2827.5,"i":-0.05},{"t":2832.5,"i":0.6},{"t":2837.5,"i":0.2},{"t":2842.5,"i":0.85},{"t":2847.5,"i":0.35},{"t":2852.5,"i":0.0},{"t":2857.5,"i":0.7},{"t":2862.5,"i":0.5},{"t":2867.5,"i":1.05},{"t":2872.5,"i":0.15},{"t":2877.5,"i":0.4},{"t":2882.5,"i":0.8},{"t":2887.5,"i":-0.15},{"t":2892.5,"i":0.55},{"t":2897.5,"i":0.25},
  {"t":2902.5,"i":0.65},{"t":2907.5,"i":0.05},{"t":2912.5,"i":0.4},{"t":2917.5,"i":0.9},{"t":2922.5,"i":0.2},{"t":2927.5,"i":0.6},{"t":2932.5,"i":-0.1},{"t":2937.5,"i":0.75},{"t":2942.5,"i":0.35},{"t":2947.5,"i":1.0},{"t":2952.5,"i":0.1},{"t":2957.5,"i":0.5},{"t":2962.5,"i":0.85},{"t":2967.5,"i":0.3},{"t":2972.5,"i":-0.2},{"t":2977.5,"i":0.7},{"t":2982.5,"i":0.45},{"t":2987.5,"i":0.95},{"t":2992.5,"i":0.15},{"t":2997.5,"i":0.55},
  {"t":3002.5,"i":0.1},{"t":3007.5,"i":0.55},{"t":3012.5,"i":0.9},{"t":3017.5,"i":0.25},{"t":3022.5,"i":0.7},{"t":3027.5,"i":0.35},{"t":3032.5,"i":1.1},{"t":3037.5,"i":0.0},{"t":3042.5,"i":0.45},{"t":3047.5,"i":0.8},{"t":3052.5,"i":0.2},{"t":3057.5,"i":0.65},{"t":3062.5,"i":-0.05},{"t":3067.5,"i":0.5},{"t":3072.5,"i":0.95},{"t":3077.5,"i":0.3},{"t":3082.5,"i":0.6},{"t":3087.5,"i":0.05},{"t":3092.5,"i":0.85},{"t":3097.5,"i":0.4},
  {"t":3102.5,"i":0.3},{"t":3107.5,"i":0.75},{"t":3112.5,"i":0.1},{"t":3117.5,"i":0.95},{"t":3122.5,"i":0.45},{"t":3127.5,"i":-0.05},{"t":3132.5,"i":0.6},{"t":3137.5,"i":0.2},{"t":3142.5,"i":0.85},{"t":3147.5,"i":0.35},{"t":3152.5,"i":0.0},{"t":3157.5,"i":0.7},{"t":3162.5,"i":0.5},{"t":3167.5,"i":1.05},{"t":3172.5,"i":0.15},{"t":3177.5,"i":0.4},{"t":3182.5,"i":0.8},{"t":3187.5,"i":-0.15},{"t":3192.5,"i":0.55},{"t":3197.5,"i":0.25},
  {"t":3202.5,"i":0.65},{"t":3207.5,"i":0.05},{"t":3212.5,"i":0.4},{"t":3217.5,"i":0.9},{"t":3222.5,"i":0.2},{"t":3227.5,"i":0.6},{"t":3232.5,"i":-0.1},{"t":3237.5,"i":0.75},{"t":3242.5,"i":0.35},{"t":3247.5,"i":1.0},{"t":3252.5,"i":0.1},{"t":3257.5,"i":0.5},{"t":3262.5,"i":0.85},{"t":3267.5,"i":0.3},{"t":3272.5,"i":-0.2},{"t":3277.5,"i":0.7},{"t":3282.5,"i":0.45},{"t":3287.5,"i":0.95},{"t":3292.5,"i":0.15},{"t":3297.5,"i":0.55},
  {"t":3302.5,"i":0.1},{"t":3307.5,"i":0.55},{"t":3312.5,"i":0.9},{"t":3317.5,"i":0.25},{"t":3322.5,"i":0.7},{"t":3327.5,"i":0.35},{"t":3332.5,"i":1.1},{"t":3337.5,"i":0.0},{"t":3342.5,"i":0.45},{"t":3347.5,"i":0.8},{"t":3352.5,"i":0.2},{"t":3357.5,"i":0.65},{"t":3362.5,"i":-0.05},{"t":3367.5,"i":0.5},{"t":3372.5,"i":0.95},{"t":3377.5,"i":0.3},{"t":3382.5,"i":0.6},{"t":3387.5,"i":0.05},{"t":3392.5,"i":0.85},{"t":3397.5,"i":0.4},
  {"t":3402.5,"i":0.3},{"t":3407.5,"i":0.75},{"t":3412.5,"i":0.1},{"t":3417.5,"i":0.95},{"t":3422.5,"i":0.45},{"t":3427.5,"i":-0.05},{"t":3432.5,"i":0.6},{"t":3437.5,"i":0.2},{"t":3442.5,"i":0.85},{"t":3447.5,"i":0.35},{"t":3452.5,"i":0.0},{"t":3457.5,"i":0.7},{"t":3462.5,"i":0.5},{"t":3467.5,"i":1.05},{"t":3472.5,"i":0.15},{"t":3477.5,"i":0.4},{"t":3482.5,"i":0.8},{"t":3487.5,"i":-0.15},{"t":3492.5,"i":0.55},{"t":3497.5,"i":0.25},
  {"t":3502.5,"i":0.65},{"t":3507.5,"i":0.05},{"t":3512.5,"i":0.4},{"t":3517.5,"i":0.9},{"t":3522.5,"i":0.2},{"t":3527.5,"i":0.6},{"t":3532.5,"i":-0.1},{"t":3537.5,"i":0.75},{"t":3542.5,"i":0.35},{"t":3547.5,"i":1.0},{"t":3552.5,"i":0.1},{"t":3557.5,"i":0.5},{"t":3562.5,"i":0.85},{"t":3567.5,"i":0.3},{"t":3572.5,"i":-0.2},{"t":3577.5,"i":0.7},{"t":3582.5,"i":0.45},{"t":3587.5,"i":0.95},{"t":3592.5,"i":0.15},{"t":3597.5,"i":0.55},
  {"t":3602.5,"i":0.1},{"t":3607.5,"i":0.55},{"t":3612.5,"i":0.9},{"t":3617.5,"i":0.25},{"t":3622.5,"i":0.7},{"t":3627.5,"i":0.35},{"t":3632.5,"i":1.1},{"t":3637.5,"i":0.0},{"t":3642.5,"i":0.45},{"t":3647.5,"i":0.8},{"t":3652.5,"i":0.2},{"t":3657.5,"i":0.65},{"t":3662.5,"i":-0.05},{"t":3667.5,"i":0.5},{"t":3672.5,"i":0.95},{"t":3677.5,"i":0.3},{"t":3682.5,"i":0.6},{"t":3687.5,"i":0.05},{"t":3692.5,"i":0.85},{"t":3697.5,"i":0.4},
  {"t":3702.5,"i":0.3},{"t":3707.5,"i":0.75},{"t":3712.5,"i":0.1},{"t":3717.5,"i":0.95},{"t":3722.5,"i":0.45},{"t":3727.5,"i":-0.05},{"t":3732.5,"i":0.6},{"t":3737.5,"i":0.2},{"t":3742.5,"i":0.85},{"t":3747.5,"i":0.35},{"t":3752.5,"i":0.0},{"t":3757.5,"i":0.7},{"t":3762.5,"i":0.5},{"t":3767.5,"i":1.05},{"t":3772.5,"i":0.15},{"t":3777.5,"i":0.4},{"t":3782.5,"i":0.8},{"t":3787.5,"i":-0.15},{"t":3792.5,"i":0.55},{"t":3797.5,"i":0.25},
  {"t":3802.5,"i":0.65},{"t":3807.5,"i":0.05},{"t":3812.5,"i":0.4},{"t":3817.5,"i":0.9},{"t":3822.5,"i":0.2},{"t":3827.5,"i":0.6},{"t":3832.5,"i":-0.1},{"t":3837.5,"i":0.75},{"t":3842.5,"i":0.35},{"t":3847.5,"i":1.0},{"t":3852.5,"i":0.1},{"t":3857.5,"i":0.5},{"t":3862.5,"i":0.85},{"t":3867.5,"i":0.3},{"t":3872.5,"i":-0.2},{"t":3877.5,"i":0.7},{"t":3882.5,"i":0.45},{"t":3887.5,"i":0.95},{"t":3892.5,"i":0.15},{"t":3897.5,"i":0.55},
  {"t":3902.5,"i":0.1},{"t":3907.5,"i":0.55},{"t":3912.5,"i":0.9},{"t":3917.5,"i":0.25},{"t":3922.5,"i":0.7},{"t":3927.5,"i":0.35},{"t":3932.5,"i":1.1},{"t":3937.5,"i":0.0},{"t":3942.5,"i":0.45},{"t":3947.5,"i":0.8},{"t":3952.5,"i":0.2},{"t":3957.5,"i":0.65},{"t":3962.5,"i":-0.05},{"t":3967.5,"i":0.5},{"t":3972.5,"i":0.95},{"t":3977.5,"i":0.3},{"t":3982.5,"i":0.6},{"t":3987.5,"i":0.05},{"t":3992.5,"i":0.85},{"t":3997.5,"i":0.4},
  {"t":4002.5,"i":0.3},{"t":4007.5,"i":0.75},{"t":4012.5,"i":0.1},{"t":4017.5,"i":0.95},{"t":4022.5,"i":0.45},{"t":4027.5,"i":-0.05},{"t":4032.5,"i":0.6},{"t":4037.5,"i":0.2},{"t":4042.5,"i":0.85},{"t":4047.5,"i":0.35},{"t":4052.5,"i":0.0},{"t":4057.5,"i":0.7},{"t":4062.5,"i":0.5},{"t":4067.5,"i":1.05},{"t":4072.5,"i":0.15},{"t":4077.5,"i":0.4},{"t":4082.5,"i":0.8},{"t":4087.5,"i":-0.15},{"t":4092.5,"i":0.55},{"t":4097.5,"i":0.25},
  {"t":4102.5,"i":0.65},{"t":4107.5,"i":0.05},{"t":4112.5,"i":0.4},{"t":4117.5,"i":0.9},{"t":4122.5,"i":0.2},{"t":4127.5,"i":0.6},{"t":4132.5,"i":-0.1},{"t":4137.5,"i":0.75},{"t":4142.5,"i":0.35},{"t":4147.5,"i":1.0},{"t":4152.5,"i":0.1},{"t":4157.5,"i":0.5},{"t":4162.5,"i":0.85},{"t":4167.5,"i":0.3},{"t":4172.5,"i":-0.2},{"t":4177.5,"i":0.7},{"t":4182.5,"i":0.45},{"t":4187.5,"i":0.95},{"t":4192.5,"i":0.15},{"t":4197.5,"i":0.55},
  {"t":4202.5,"i":0.1},{"t":4207.5,"i":0.55},{"t":4212.5,"i":0.9},{"t":4217.5,"i":0.25},{"t":4222.5,"i":0.7},{"t":4227.5,"i":0.35},{"t":4232.5,"i":1.1},{"t":4237.5,"i":0.0},{"t":4242.5,"i":0.45},{"t":4247.5,"i":0.8},{"t":4252.5,"i":0.2},{"t":4257.5,"i":0.65},{"t":4262.5,"i":-0.05},{"t":4267.5,"i":0.5},{"t":4272.5,"i":0.95},{"t":4277.5,"i":0.3},{"t":4282.5,"i":0.6},{"t":4287.5,"i":0.05},{"t":4292.5,"i":0.85},{"t":4297.5,"i":0.4},
  {"t":4302.5,"i":0.3},{"t":4307.5,"i":0.75},{"t":4312.5,"i":0.1},{"t":4317.5,"i":0.95},{"t":4322.5,"i":0.45},{"t":4327.5,"i":-0.05},{"t":4332.5,"i":0.6},{"t":4337.5,"i":0.2},{"t":4342.5,"i":0.85},{"t":4347.5,"i":0.35},{"t":4352.5,"i":0.0},{"t":4357.5,"i":0.7},{"t":4362.5,"i":0.5},{"t":4367.5,"i":1.05},{"t":4372.5,"i":0.15},{"t":4377.5,"i":0.4},{"t":4382.5,"i":0.8},{"t":4387.5,"i":-0.15},{"t":4392.5,"i":0.55},{"t":4397.5,"i":0.25},
  {"t":4402.5,"i":0.65},{"t":4407.5,"i":0.05},{"t":4412.5,"i":0.4},{"t":4417.5,"i":0.9},{"t":4422.5,"i":0.2},{"t":4427.5,"i":0.6},{"t":4432.5,"i":-0.1},{"t":4437.5,"i":0.75},{"t":4442.5,"i":0.35},{"t":4447.5,"i":1.0},{"t":4452.5,"i":0.1},{"t":4457.5,"i":0.5},{"t":4462.5,"i":0.85},{"t":4467.5,"i":0.3},{"t":4472.5,"i":-0.2},{"t":4477.5,"i":0.7},{"t":4482.5,"i":0.45},{"t":4487.5,"i":0.95},{"t":4492.5,"i":0.15},{"t":4497.5,"i":0.55},
  {"t":4502.5,"i":0.1},{"t":4507.5,"i":0.55},{"t":4512.5,"i":0.9},{"t":4517.5,"i":0.25},{"t":4522.5,"i":0.7},{"t":4527.5,"i":0.35},{"t":4532.5,"i":1.1},{"t":4537.5,"i":0.0},{"t":4542.5,"i":0.45},{"t":4547.5,"i":0.8},{"t":4552.5,"i":0.2},{"t":4557.5,"i":0.65},{"t":4562.5,"i":-0.05},{"t":4567.5,"i":0.5},{"t":4572.5,"i":0.95},{"t":4577.5,"i":0.3},{"t":4582.5,"i":0.6},{"t":4587.5,"i":0.05},{"t":4592.5,"i":0.85},{"t":4597.5,"i":0.4},
  {"t":4602.5,"i":0.3},{"t":4607.5,"i":0.75},{"t":4612.5,"i":0.1},{"t":4617.5,"i":0.95},{"t":4622.5,"i":0.45},{"t":4627.5,"i":-0.05},{"t":4632.5,"i":0.6},{"t":4637.5,"i":0.2},{"t":4642.5,"i":0.85},{"t":4647.5,"i":0.35},{"t":4652.5,"i":0.0},{"t":4657.5,"i":0.7},{"t":4662.5,"i":0.5},{"t":4667.5,"i":1.05},{"t":4672.5,"i":0.15},{"t":4677.5,"i":0.4},{"t":4682.5,"i":0.8},{"t":4687.5,"i":-0.15},{"t":4692.5,"i":0.55},{"t":4697.5,"i":0.25},
  {"t":4702.5,"i":0.65},{"t":4707.5,"i":0.05},{"t":4712.5,"i":0.4},{"t":4717.5,"i":0.9},{"t":4722.5,"i":0.2},{"t":4727.5,"i":0.6},{"t":4732.5,"i":-0.1},{"t":4737.5,"i":0.75},{"t":4742.5,"i":0.35},{"t":4747.5,"i":1.0},{"t":4752.5,"i":0.1},{"t":4757.5,"i":0.5},{"t":4762.5,"i":0.85},{"t":4767.5,"i":0.3},{"t":4772.5,"i":-0.2},{"t":4777.5,"i":0.7},{"t":4782.5,"i":0.45},{"t":4787.5,"i":0.95},{"t":4792.5,"i":0.15},{"t":4797.5,"i":0.55},
  {"t":4802.5,"i":0.1},{"t":4807.5,"i":0.55},{"t":4812.5,"i":0.9},{"t":4817.5,"i":0.25},{"t":4822.5,"i":0.7},{"t":4827.5,"i":0.35},{"t":4832.5,"i":1.1},{"t":4837.5,"i":0.0},{"t":4842.5,"i":0.45},{"t":4847.5,"i":0.8},{"t":4852.5,"i":0.2},{"t":4857.5,"i":0.65},{"t":4862.5,"i":-0.05},{"t":4867.5,"i":0.5},{"t":4872.5,"i":0.95},{"t":4877.5,"i":0.3},{"t":4882.5,"i":0.6},{"t":4887.5,"i":0.05},{"t":4892.5,"i":0.85},{"t":4897.5,"i":0.4},
  {"t":4902.5,"i":0.3},{"t":4907.5,"i":0.75},{"t":4912.5,"i":0.1},{"t":4917.5,"i":0.95},{"t":4922.5,"i":0.45},{"t":4927.5,"i":-0.05},{"t":4932.5,"i":0.6},{"t":4937.5,"i":0.2},{"t":4942.5,"i":0.85},{"t":4947.5,"i":0.35},{"t":4952.5,"i":0.0},{"t":4957.5,"i":0.7},{"t":4962.5,"i":0.5},{"t":4967.5,"i":1.05},{"t":4972.5,"i":0.15},{"t":4977.5,"i":0.4},{"t":4982.5,"i":0.8},{"t":4987.5,"i":-0.15},{"t":4992.5,"i":0.55},{"t":4997.5,"i":0.25}
 ],
 "stats": [
  {"t":0,"a":0.6,"r":0.74},{"t":25,"a":0.55,"r":0.72},{"t":50,"a":0.5,"r":0.68},{"t":70,"a":0.36,"r":0.62},{"t":75,"a":0.35,"r":0.62},{"t":95,"a":4.96,"r":5.0},{"t":100,"a":4.85,"r":4.95},{"t":125,"a":4.45,"r":4.58},{"t":150,"a":4.15,"r":4.28},{"t":175,"a":3.78,"r":3.9},{"t":200,"a":3.4,"r":3.52},{"t":225,"a":3.0,"r":3.13},{"t":250,"a":2.62,"r":2.77},{"t":275,"a":2.42,"r":2.56},{"t":300,"a":2.2,"r":2.35},{"t":325,"a":1.92,"r":2.08},{"t":350,"a":1.72,"r":1.9},{"t":375,"a":1.5,"r":1.68},{"t":400,"a":1.25,"r":1.45},{"t":425,"a":1.22,"r":1.4},{"t":450,"a":1.12,"r":1.3},{"t":475,"a":1.02,"r":1.22},{"t":500,"a":0.88,"r":1.1},{"t":525,"a":0.82,"r":1.02},{"t":550,"a":0.8,"r":0.98},{"t":575,"a":0.82,"r":0.98},{"t":600,"a":0.86,"r":0.97},{"t":625,"a":0.75,"r":0.9},{"t":650,"a":0.68,"r":0.84},{"t":675,"a":0.66,"r":0.8},{"t":700,"a":0.6,"r":0.78},{"t":725,"a":0.58,"r":0.74},{"t":750,"a":0.55,"r":0.72},{"t":775,"a":0.5,"r":0.7},{"t":800,"a":0.47,"r":0.68},{"t":825,"a":0.52,"r":0.69},{"t":850,"a":0.45,"r":0.67},{"t":875,"a":0.47,"r":0.67},{"t":900,"a":0.42,"r":0.66},{"t":925,"a":0.48,"r":0.67},{"t":950,"a":0.42,"r":0.66},{"t":975,"a":0.47,"r":0.67},
  {"t":1000,"a":0.5,"r":0.66},{"t":1025,"a":0.52,"r":0.67},{"t":1050,"a":0.45,"r":0.65},{"t":1075,"a":0.5,"r":0.67},{"t":1100,"a":0.52,"r":0.68},{"t":1125,"a":0.44,"r":0.65},{"t":1150,"a":0.37,"r":0.62},{"t":1175,"a":0.45,"r":0.64},{"t":1200,"a":0.4,"r":0.63},{"t":1225,"a":0.43,"r":0.64},{"t":1250,"a":0.42,"r":0.62},{"t":1275,"a":0.5,"r":0.66},{"t":1300,"a":0.38,"r":0.61},{"t":1325,"a":0.45,"r":0.63},{"t":1350,"a":0.4,"r":0.62},{"t":1375,"a":0.48,"r":0.64},{"t":1400,"a":0.43,"r":0.62},{"t":1425,"a":0.36,"r":0.6},{"t":1450,"a":0.45,"r":0.63},{"t":1475,"a":0.3,"r":0.58},{"t":1500,"a":0.34,"r":0.6},{"t":1525,"a":0.44,"r":0.63},{"t":1550,"a":0.48,"r":0.64},{"t":1575,"a":0.4,"r":0.62},{"t":1600,"a":0.35,"r":0.6},{"t":1625,"a":0.45,"r":0.64},{"t":1650,"a":0.42,"r":0.63},{"t":1675,"a":0.5,"r":0.65},{"t":1700,"a":0.46,"r":0.64},{"t":1725,"a":0.38,"r":0.61},{"t":1750,"a":0.52,"r":0.67},{"t":1775,"a":0.44,"r":0.64},{"t":1800,"a":0.36,"r":0.6},{"t":1825,"a":0.42,"r":0.62},{"t":1850,"a":0.45,"r":0.63},{"t":1875,"a":0.5,"r":0.65},{"t":1900,"a":0.58,"r":0.68},{"t":1925,"a":0.47,"r":0.64},{"t":1950,"a":0.4,"r":0.62},{"t":1975,"a":0.36,"r":0.6},
  {"t":2000,"a":0.44,"r":0.63},{"t":2025,"a":0.41,"r":0.61},{"t":2050,"a":0.38,"r":0.6},{"t":2075,"a":0.46,"r":0.63},{"t":2100,"a":0.5,"r":0.65},{"t":2125,"a":0.42,"r":0.62},{"t":2150,"a":0.39,"r":0.6},{"t":2175,"a":0.45,"r":0.63},{"t":2200,"a":0.49,"r":0.65},{"t":2225,"a":0.38,"r":0.61},{"t":2250,"a":0.3,"r":0.58},{"t":2275,"a":0.42,"r":0.62},{"t":2300,"a":0.36,"r":0.6},{"t":2325,"a":0.25,"r":0.57},{"t":2350,"a":0.4,"r":0.61},{"t":2375,"a":0.5,"r":0.64},{"t":2400,"a":0.44,"r":0.63},{"t":2425,"a":0.48,"r":0.64},{"t":2450,"a":0.37,"r":0.6},{"t":2475,"a":0.45,"r":0.63},{"t":2500,"a":0.42,"r":0.62},{"t":2525,"a":0.38,"r":0.61},{"t":2550,"a":0.43,"r":0.63},{"t":2575,"a":0.35,"r":0.6},{"t":2600,"a":0.42,"r":0.62},{"t":2625,"a":0.52,"r":0.66},{"t":2650,"a":0.5,"r":0.67},{"t":2675,"a":0.42,"r":0.63},{"t":2700,"a":0.46,"r":0.64},{"t":2725,"a":0.38,"r":0.61},{"t":2750,"a":0.44,"r":0.62},{"t":2775,"a":0.48,"r":0.64},{"t":2800,"a":0.42,"r":0.62},{"t":2825,"a":0.36,"r":0.6},{"t":2850,"a":0.45,"r":0.63},{"t":2875,"a":0.41,"r":0.61},{"t":2900,"a":0.5,"r":0.66},{"t":2925,"a":0.56,"r":0.68},{"t":2950,"a":0.44,"r":0.63},{"t":2975,"a":0.4,"r":0.61},
  {"t":3000,"a":0.46,"r":0.63},{"t":3025,"a":0.49,"r":0.64},{"t":3050,"a":0.38,"r":0.6},{"t":3075,"a":0.43,"r":0.62},{"t":3100,"a":0.35,"r":0.6},{"t":3125,"a":0.44,"r":0.63},{"t":3150,"a":0.4,"r":0.62},{"t":3175,"a":0.34,"r":0.6},{"t":3200,"a":0.44,"r":0.62},{"t":3225,"a":0.5,"r":0.66},{"t":3250,"a":0.42,"r":0.63},{"t":3275,"a":0.36,"r":0.6},{"t":3300,"a":0.48,"r":0.64},{"t":3325,"a":0.4,"r":0.62},{"t":3350,"a":0.46,"r":0.64},{"t":3375,"a":0.38,"r":0.6},{"t":3400,"a":0.36,"r":0.6},{"t":3425,"a":0.43,"r":0.62},{"t":3450,"a":0.4,"r":0.61},{"t":3475,"a":0.5,"r":0.64},{"t":3500,"a":0.6,"r":0.68},{"t":3525,"a":0.45,"r":0.64},{"t":3550,"a":0.42,"r":0.63},{"t":3575,"a":0.5,"r":0.65},{"t":3600,"a":0.44,"r":0.63},{"t":3625,"a":0.47,"r":0.64},{"t":3650,"a":0.4,"r":0.62},{"t":3675,"a":0.45,"r":0.63},{"t":3700,"a":0.38,"r":0.6},{"t":3725,"a":0.42,"r":0.61},{"t":3750,"a":0.34,"r":0.59},{"t":3775,"a":0.44,"r":0.62},{"t":3800,"a":0.46,"r":0.63},{"t":3825,"a":0.4,"r":0.61},{"t":3850,"a":0.35,"r":0.6},{"t":3875,"a":0.44,"r":0.62},{"t":3900,"a":0.38,"r":0.61},{"t":3925,"a":0.27,"r":0.57},{"t":3950,"a":0.38,"r":0.6},{"t":3975,"a":0.42,"r":0.62},
  {"t":4000,"a":0.45,"r":0.63},{"t":4025,"a":0.42,"r":0.62},{"t":4050,"a":0.36,"r":0.6},{"t":4075,"a":0.42,"r":0.62},{"t":4100,"a":0.38,"r":0.62},{"t":4125,"a":0.66,"r":0.76},{"t":4150,"a":0.44,"r":0.65},{"t":4175,"a":0.4,"r":0.62},{"t":4200,"a":0.42,"r":0.62},{"t":4225,"a":0.5,"r":0.65},{"t":4250,"a":0.48,"r":0.66},{"t":4275,"a":0.4,"r":0.62},{"t":4300,"a":0.34,"r":0.6},{"t":4325,"a":0.42,"r":0.62},{"t":4350,"a":0.5,"r":0.64},{"t":4375,"a":0.44,"r":0.63},{"t":4400,"a":0.38,"r":0.6},{"t":4425,"a":0.47,"r":0.63},{"t":4450,"a":0.42,"r":0.62},{"t":4475,"a":0.36,"r":0.6},{"t":4500,"a":0.45,"r":0.63},{"t":4525,"a":0.5,"r":0.65},{"t":4550,"a":0.46,"r":0.63},{"t":4575,"a":0.4,"r":0.62},{"t":4600,"a":0.42,"r":0.62},{"t":4625,"a":0.38,"r":0.6},{"t":4650,"a":0.45,"r":0.63},{"t":4675,"a":0.4,"r":0.61},{"t":4700,"a":0.44,"r":0.62},{"t":4725,"a":0.46,"r":0.63},{"t":4750,"a":0.42,"r":0.62},{"t":4775,"a":0.6,"r":0.67},{"t":4800,"a":0.42,"r":0.63},{"t":4825,"a":0.44,"r":0.62},{"t":4850,"a":0.5,"r":0.65},{"t":4875,"a":0.42,"r":0.62},{"t":4900,"a":0.45,"r":0.63},{"t":4925,"a":0.4,"r":0.66},{"t":4950,"a":0.44,"r":0.67},{"t":4975,"a":0.36,"r":0.62},{"t":5000,"a":0.42,"r":0.62}
 ]
},
"spacing": 54,
"vconcat": [
 {
  "title": "Precharge 500V Voltage Measurements",
  "width": 910,
  "height": 300,
  "data": {"name": "volt"},
  "mark": {"type": "line", "strokeWidth": 1.2, "clip": true},
  "encoding": {
   "x": {"field": "t", "type": "quantitative", "scale": {"domain": [0, 5000], "nice": false},
         "axis": {"title": "Time [ms]", "values": [0,1000,2000,3000,4000,5000], "format": "d", "labelFlush": false, "labelPadding": 5, "titlePadding": 8}},
   "y": {"field": "v", "type": "quantitative", "scale": {"domain": [-25, 533.5], "nice": false, "zero": false},
         "axis": {"title": "Output Voltage [V]", "values": [0,100,200,300,400,500], "labelPadding": 8, "titlePadding": 8,
                  "gridColor": {"condition": {"test": "datum.value === 0", "value": "white"}, "value": "#d6d6d6"},
                  "gridWidth": {"condition": {"test": "datum.value === 0", "value": 2}, "value": 1}}},
   "color": {"datum": "Voltages", "type": "nominal", "scale": {"domain": ["Voltages"], "range": ["blue"]}}
  }
 },
 {
  "title": "Precharge 500V Current Measurements",
  "width": 913,
  "height": 300,
  "encoding": {
   "x": {"field": "t", "type": "quantitative", "scale": {"domain": [0, 5000], "nice": false},
         "axis": {"title": "Time [ms]", "values": [0,1000,2000,3000,4000,5000], "format": "d", "labelFlush": false, "labelPadding": 5, "titlePadding": 8}}
  },
  "layer": [
   {"data": {"name": "cur"}, "mark": {"type": "line", "strokeWidth": 1.2, "clip": true},
    "encoding": {
     "y": {"field": "i", "type": "quantitative", "scale": {"domain": [-2.27, 6.6], "nice": false, "zero": false},
           "axis": {"title": "Output Current [A]", "values": [-2,-1,0,1,2,3,4,5,6], "labelPadding": 8, "titlePadding": 15,
                    "gridColor": {"condition": {"test": "datum.value === 0", "value": "white"}, "value": "#d6d6d6"},
                    "gridWidth": {"condition": {"test": "datum.value === 0", "value": 2}, "value": 1}}},
     "color": {"datum": "Current", "type": "nominal", "scale": {"domain": ["Current", "Average", "RMS"], "range": ["green", "red", "purple"]}}
    }},
   {"data": {"name": "stats"}, "mark": {"type": "line", "strokeWidth": 1, "clip": true},
    "encoding": {
     "y": {"field": "a", "type": "quantitative",
           "axis": {"title": "Output Current [A]", "values": [-2,-1,0,1,2,3,4,5,6], "labelPadding": 8, "titlePadding": 15,
                    "gridColor": {"condition": {"test": "datum.value === 0", "value": "white"}, "value": "#d6d6d6"},
                    "gridWidth": {"condition": {"test": "datum.value === 0", "value": 2}, "value": 1}}},
     "color": {"datum": "Average", "type": "nominal"}
    }},
   {"data": {"name": "stats"}, "mark": {"type": "line", "strokeWidth": 1, "clip": true},
    "encoding": {
     "y": {"field": "r", "type": "quantitative",
           "axis": {"title": "Output Current [A]", "values": [-2,-1,0,1,2,3,4,5,6], "labelPadding": 8, "titlePadding": 15,
                    "gridColor": {"condition": {"test": "datum.value === 0", "value": "white"}, "value": "#d6d6d6"},
                    "gridWidth": {"condition": {"test": "datum.value === 0", "value": 2}, "value": 1}}},
     "color": {"datum": "RMS", "type": "nominal"}
    }}
  ]
 }
],
"resolve": {"scale": {"color": "independent"}, "legend": {"color": "independent"}}
}
